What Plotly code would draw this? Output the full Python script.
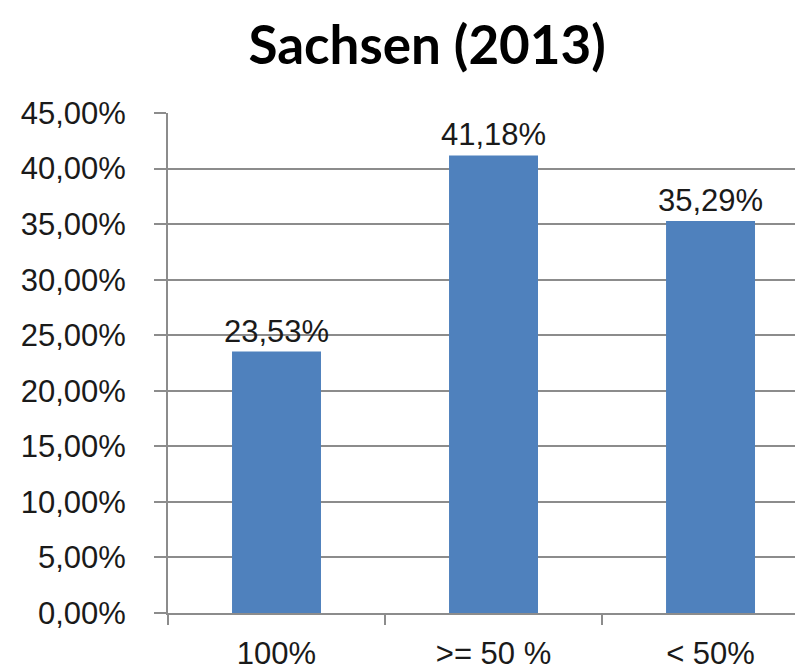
import plotly.graph_objects as go

categories = ["100%", ">= 50 %", "< 50%"]
values = [23.53, 41.18, 35.29]
tick_vals = [0, 5, 10, 15, 20, 25, 30, 35, 40, 45]
tick_text = ["0,00%", "5,00%", "10,00%", "15,00%", "20,00%", "25,00%", "30,00%", "35,00%", "40,00%", "45,00%"]
labels = [f"{v:.2f}%".replace(".", ",") for v in values]

fig = go.Figure(go.Bar(
    x=[0, 1, 2], y=values, text=labels, textposition="outside",
    width=0.41, constraintext="none",
    marker=dict(color="#4F81BD", line=dict(width=0)),
    textfont=dict(family="Liberation Sans, Arial", size=31, color="#1a1a1a"),
    cliponaxis=False,
))

fig.update_layout(
    width=803, height=671,
    margin=dict(l=160, r=0, t=105, b=66, autoexpand=False),
    plot_bgcolor="white", paper_bgcolor="white",
    showlegend=False,
    title=dict(text="<b>Sachsen (2013)</b>", x=0.522, xanchor="center", y=0.944, yanchor="middle",
               font=dict(family="Lato, Open Sans", size=53, color="black")),
    font=dict(family="Liberation Sans, Arial", size=31, color="#1a1a1a"),
)
fig.update_yaxes(range=[0, 45], tickvals=tick_vals, ticktext=tick_text,
                 showgrid=True, gridcolor="#8c8c8c", gridwidth=2,
                 showline=True, linecolor="#8c8c8c", linewidth=2,
                 ticks="outside", ticklen=12, tickcolor="#8c8c8c", tickwidth=2,
                 zeroline=False, tickfont=dict(size=31), ticklabelstandoff=22,
                 automargin=False)
fig.update_xaxes(range=[-0.5, 2.463], tickvals=[0, 1, 2], ticktext=categories,
                 showline=True, linecolor="#8c8c8c", linewidth=2,
                 ticks="", tickfont=dict(size=31), ticklabelstandoff=12,
                 minor=dict(tickvals=[-0.5, 0.5, 1.5], ticks="outside", ticklen=10,
                            tickcolor="#8c8c8c", tickwidth=2, showgrid=False),
                 automargin=False)

fig.write_html("out.html")
